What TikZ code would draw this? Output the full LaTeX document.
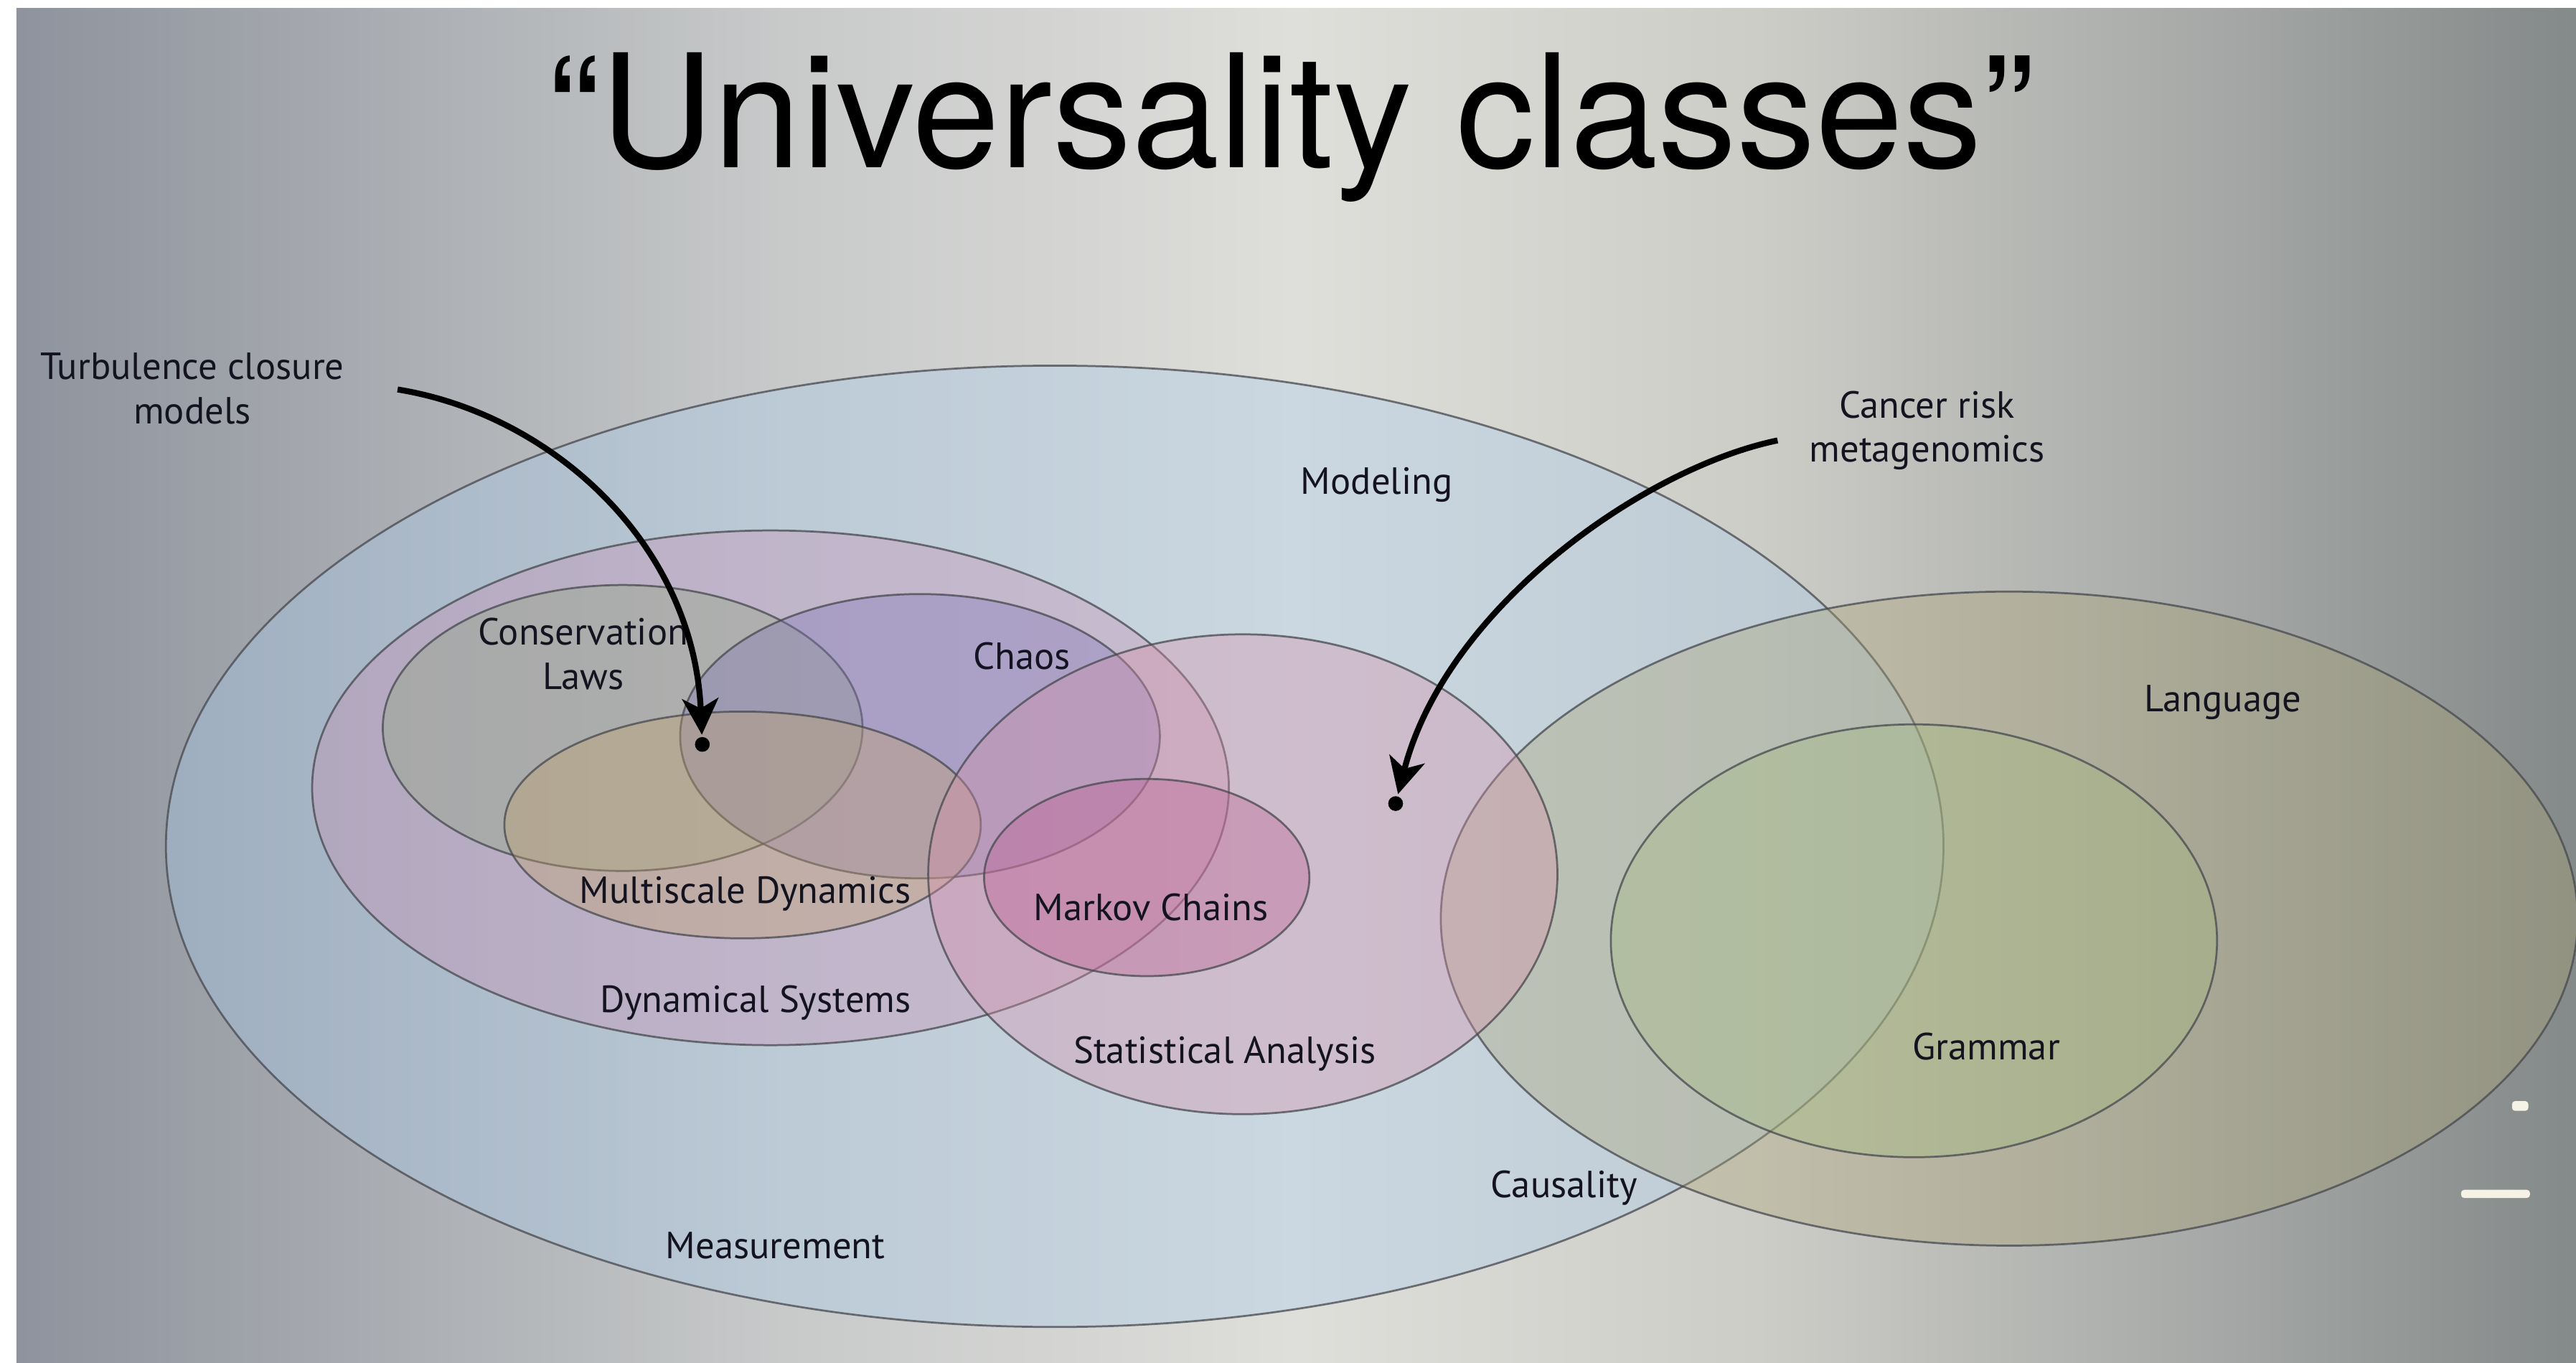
\documentclass[tikz,border=0pt]{standalone}
\usepackage{fontspec}
\setmainfont{PT Sans}
\newfontfamily\titlefont{TeX Gyre Heros}
\usetikzlibrary{arrows.meta,positioning}

\definecolor{setline}{RGB}{70,72,78}
\definecolor{labeltext}{RGB}{20,20,32}
\definecolor{modelfill}{RGB}{170,205,238}
\definecolor{langfill}{RGB}{172,164,118}
\definecolor{grammarfill}{RGB}{165,188,128}
\definecolor{dynfill}{RGB}{200,145,180}
\definecolor{consfill}{RGB}{145,168,128}
\definecolor{chaosfill}{RGB}{128,118,185}
\definecolor{multifill}{RGB}{195,162,108}
\definecolor{statsfill}{RGB}{215,145,172}
\definecolor{markovfill}{RGB}{190,95,148}
\definecolor{markwhite}{RGB}{245,243,230}

% the path covers 25bp to 75bp of the shading
\pgfdeclarehorizontalshading{slidebg}{100bp}{
    rgb(0bp)=(0.557,0.576,0.616);
    rgb(25bp)=(0.557,0.576,0.616);
    rgb(31bp)=(0.647,0.659,0.682);
    rgb(40bp)=(0.784,0.792,0.792);
    rgb(50bp)=(0.871,0.871,0.855);
    rgb(59bp)=(0.804,0.804,0.784);
    rgb(68bp)=(0.647,0.659,0.651);
    rgb(75bp)=(0.518,0.537,0.537);
    rgb(100bp)=(0.518,0.537,0.537)}

\begin{document}
\begin{tikzpicture}[x=0.5pt,y=-0.5pt,
    every node/.style={font=\fontsize{11.5}{13.5}\selectfont, text=labeltext, align=center, inner sep=0pt},
    venn/.style={draw=setline, line width=0.6pt, fill opacity=0.36, draw opacity=0.75},
    onbase/.style={anchor=base},
    pointer/.style={-{Stealth[length=11pt,width=11pt,inset=3pt]}, line width=1.8pt, shorten >=0.5pt},
    spot/.style={circle, fill=black, minimum size=4.5pt, inner sep=0pt}]
    \useasboundingbox (0,0) rectangle (1568,829);

    % background
    \fill[white] (0,0) rectangle (1568,829);
    \shade[shading=slidebg] (10,5) rectangle (1568,829);

    % the sets
    \filldraw[venn, fill=modelfill] (642,515) ellipse [x radius=541, y radius=292.5];
    \filldraw[venn, fill=langfill] (1223,559) ellipse [x radius=346, y radius=199];
    \filldraw[venn, fill=dynfill] (469,479.4) ellipse [x radius=279, y radius=156.6];
    \filldraw[venn, fill=consfill] (379,443) ellipse [x radius=146, y radius=87];
    \filldraw[venn, fill=chaosfill] (560,448) ellipse [x radius=146, y radius=86.5];
    \filldraw[venn, fill=multifill] (452,502) ellipse [x radius=145, y radius=69];
    \filldraw[venn, fill=statsfill] (756.5,532) ellipse [x radius=191.5, y radius=146];
    \filldraw[venn, fill=markovfill] (698,534) ellipse [x radius=99, y radius=60];
    \filldraw[venn, fill=grammarfill] (1165,572.5) ellipse [x radius=184.5, y radius=131.7];

    % title
    \node[onbase, font=\titlefont\fontsize{48}{48}\selectfont, text=black] (title) at (786,102) {“Universality classes”};

    % labels
    \node[onbase] (modeling) at (838,300.5) {Modeling};
    \node (conslaws) at (355,398) {Conservation\\Laws};
    \node[onbase] (chaos) at (622,407.5) {Chaos};
    \node[onbase] (language) at (1353,433) {Language};
    \node[onbase] (multiscale) at (453.6,549.5) {Multiscale Dynamics};
    \node[onbase] (markov) at (700.6,560) {Markov Chains};
    \node[onbase] (dynsys) at (460,616) {Dynamical Systems};
    \node[onbase] (stats) at (745.5,647) {Statistical Analysis};
    \node[onbase] (grammar) at (1209,645) {Grammar};
    \node[onbase] (causality) at (952,728.6) {Causality};
    \node[onbase] (measure) at (472,765.7) {Measurement};
    \node (turb) at (117,236.5) {Turbulence closure\\models};
    \node (cancer) at (1173,262) {Cancer risk\\metagenomics};

    % examples and pointers
    \node[spot] (turbdot) at (427.5,453) {};
    \node[spot] (cancerdot) at (849.5,489) {};
    \coordinate (turbstart) at (242,237);
    \coordinate (cancerstart) at (1082,268);
    \draw[pointer] (turbstart) .. controls (335,252) and (422,330) .. (turbdot);
    \draw[pointer] (cancerstart) .. controls (1000,285) and (880,370) .. (cancerdot);

    % marks at the right edge
    \fill[markwhite, rounded corners=1pt] (1529,670) rectangle (1539,676);
    \fill[markwhite, rounded corners=1pt] (1498,724) rectangle (1540,729);
\end{tikzpicture}
\end{document}
